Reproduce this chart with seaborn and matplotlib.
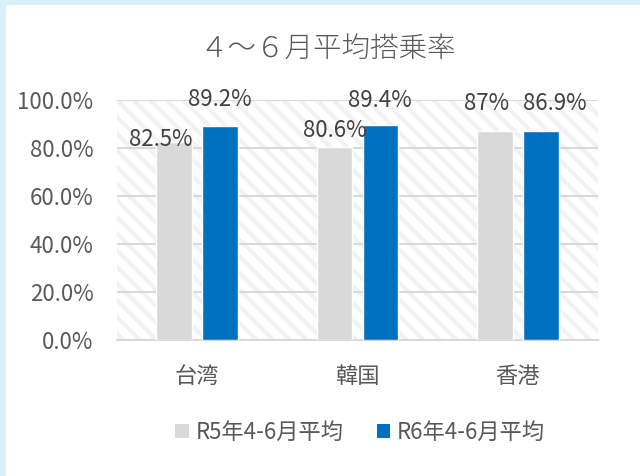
import pandas as pd
import seaborn as sns
import matplotlib.pyplot as plt
from matplotlib.patches import Rectangle, Patch
from matplotlib.ticker import PercentFormatter

sns.set_theme(style="white")
plt.rcParams['font.family'] = ['Noto Sans CJK JP', 'DejaVu Sans']
plt.rcParams['hatch.linewidth'] = 3

# データ
regions = ['台湾', '韓国', '香港']
series_names = ['R5年4-6月平均', 'R6年4-6月平均']
r5_rate = [0.825, 0.806, 0.870]
r6_rate = [0.892, 0.894, 0.869]
r5_labels = ['82.5%', '80.6%', '87%']
r6_labels = ['89.2%', '89.4%', '86.9%']

colors = ['#D9D9D9', '#0070C0']
text_gray = '#595959'

df = pd.DataFrame({
    '地域': regions * 2,
    '系列': [series_names[0]] * 3 + [series_names[1]] * 3,
    '搭乗率': r5_rate + r6_rate,
})

fig = plt.figure(figsize=(6.4, 4.76), dpi=100)
fig.patch.set_facecolor('#D9F0FA')
fig.add_artist(Rectangle((6 / 640, 0), 1, 1 - 5 / 476, transform=fig.transFigure,
                         facecolor='white', edgecolor='none', zorder=0))

ax = fig.add_axes([117 / 640, 1 - 340 / 476, 481 / 640, 240 / 476])
ax.set_facecolor('none')

# 背景の斜線
ax.add_patch(Rectangle((0, 0), 1, 1, transform=ax.transAxes, facecolor='white',
                       edgecolor='#F2F2F2', hatch='\\\\', linewidth=0, zorder=0))

sns.barplot(data=df, x='地域', y='搭乗率', hue='系列', palette=colors,
            width=0.57, gap=0.22, ax=ax, legend=False, zorder=3, saturation=1)

ax.set_ylim(0, 1)
ax.set_yticks([0, 0.2, 0.4, 0.6, 0.8, 1.0])
ax.yaxis.set_major_formatter(PercentFormatter(1.0, decimals=1))
ax.grid(axis='y', color='#D9D9D9', linewidth=1.5, zorder=1)
ax.set_axisbelow(True)
for s in ['top', 'right', 'left']:
    ax.spines[s].set_visible(False)
ax.spines['bottom'].set_color('#D9D9D9')
ax.spines['bottom'].set_linewidth(1.5)
ax.tick_params(axis='y', length=0, pad=17, labelsize=16, labelcolor=text_gray)
ax.tick_params(axis='x', length=0, pad=18, labelsize=16, labelcolor=text_gray)
ax.set_xlabel('')
ax.set_ylabel('')

# データラベル（位置は元の図に合わせて個別に調整）
offsets = [[(-14, 2), (0, 16), (-8, 28)],
           [(0, 26), (0, 25), (14, 28)]]
for cont, labels, offs in zip(ax.containers, [r5_labels, r6_labels], offsets):
    for bar, lab, (dx, dy) in zip(cont, labels, offs):
        ax.annotate(lab, (bar.get_x() + bar.get_width() / 2, bar.get_height()),
                    xytext=(dx, dy), textcoords='offset pixels',
                    ha='center', va='center', fontsize=16, color='#404040', zorder=5)

fig.text(328 / 640, 1 - 49 / 476, '４～６月平均搭乗率', ha='center', va='center',
         fontsize=20.5, color=text_gray, fontweight='light')

handles = [Patch(facecolor=c, edgecolor='none') for c in colors]
fig.legend(handles, series_names, loc='center', bbox_to_anchor=(360 / 640, 1 - 432 / 476),
           ncol=2, frameon=False, fontsize=16, labelcolor=text_gray,
           handlelength=0.6, handleheight=0.6, handletextpad=0.3, columnspacing=1.5)

plt.savefig('out.png', dpi=100)
